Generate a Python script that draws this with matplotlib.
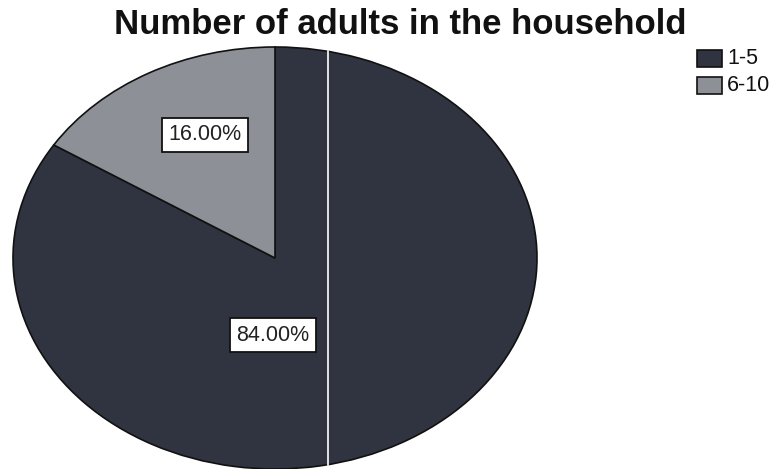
import matplotlib
matplotlib.use("Agg")
import matplotlib.pyplot as plt
from matplotlib.patches import Rectangle

categories = ["1-5", "6-10"]
values = [84.0, 16.0]
colors = ["#2f3440", "#8d9197"]
title = "Number of adults in the household"

W, H = 779, 469
fig = plt.figure(figsize=(W / 100, H / 100), dpi=100)
fig.patch.set_facecolor("white")

# axes covering the ellipse of the pie (pixel box)
left, right, top, bottom = 13, 537, 47, 469
ax = fig.add_axes([left / W, 1 - bottom / H, (right - left) / W, (bottom - top) / H])
wedges, _ = ax.pie(values, colors=colors, startangle=90, counterclock=False,
                   radius=1.0, wedgeprops=dict(edgecolor="#111111", linewidth=1.2))
ax.set_aspect("auto")
ax.set_xlim(-1.0, 1.0)
ax.set_ylim(-1.0, 1.0)
ax.axis("off")

# scan artefact: thin white vertical line
ax.plot([0.202, 0.202], [-0.979, 0.979], color="white", lw=1.2, zorder=5)

labels = [f"{v:.2f}%" for v in values]
label_pos = [(-0.008, -0.365), (-0.267, 0.583)]
for (x, y), t in zip(label_pos, labels):
    ax.text(x, y, t, ha="center", va="center", fontsize=15.5,
            family="Liberation Sans", color="#222222", zorder=6,
            bbox=dict(boxstyle="square,pad=0.3", fc="white", ec="#111111", lw=1.3))

fig.text(400 / W, 1 - 25 / H, title, ha="center", va="center",
         fontsize=25, fontweight="bold", family="Liberation Sans", color="#111111")

# legend (drawn in figure pixel coordinates)
for i, (lab, col) in enumerate(zip(categories, colors)):
    y0 = 50 + i * 27
    fig.patches.append(Rectangle((697 / W, 1 - (y0 + 17) / H), 25 / W, 17 / H,
                                 transform=fig.transFigure, facecolor=col,
                                 edgecolor="#111111", lw=1.2))
    fig.text(727 / W, 1 - (y0 + 8.5) / H, lab, ha="left", va="center",
             fontsize=15.5, family="Liberation Sans", color="#111111")

fig.savefig("out.png", dpi=100, facecolor="white")
